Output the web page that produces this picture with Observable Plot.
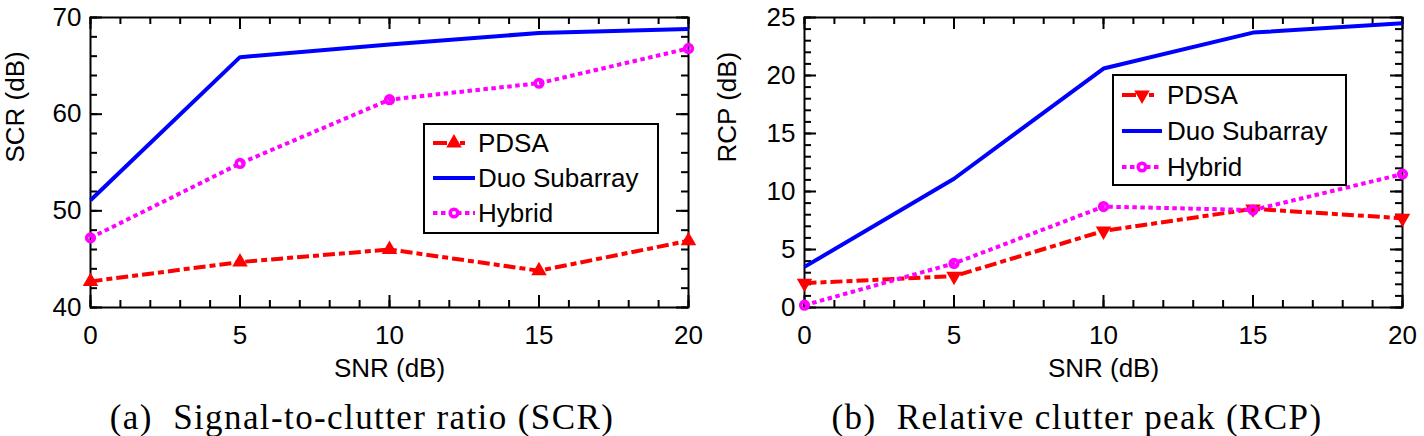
<!DOCTYPE html>
<html><head><meta charset="utf-8">
<script src="https://cdn.jsdelivr.net/npm/d3@7"></script>
<script src="https://cdn.jsdelivr.net/npm/@observablehq/plot@0.6"></script>
<style>
body{margin:0;background:#fff;}
#wrap{position:relative;width:1424px;height:436px;overflow:hidden;font-family:"Liberation Sans",Arial,sans-serif;background:#fff;}
.panel{position:absolute;top:0;width:712px;}
.legend{position:absolute;border:2px solid #000;background:#fff;box-sizing:border-box;}
.legend .row{position:absolute;height:34px;line-height:34px;font-size:26px;white-space:nowrap;}
.legend svg{position:absolute;overflow:visible;}
.caption{position:absolute;font-family:"Liberation Serif","Times New Roman",serif;font-size:35px;line-height:34px;letter-spacing:1.4px;white-space:pre;transform:translateX(-50%);}
</style></head><body><div id="wrap"></div><script>
// ---- data ----
const snr = [0, 5, 10, 15, 20];
const seriesNames = ["PDSA", "Duo Subarray", "Hybrid"];
const scrPDSA   = [42.7, 44.7, 46.0, 43.8, 46.9];
const scrDuo    = [51.1, 65.9, 67.2, 68.4, 68.8];
const scrHybrid = [47.2, 54.9, 61.5, 63.2, 66.8];
const rcpPDSA   = [2.1, 2.7, 6.6, 8.5, 7.7];
const rcpDuo    = [3.5, 11.1, 20.6, 23.7, 24.5];
const rcpHybrid = [0.2, 3.8, 8.7, 8.4, 11.5];
const xTicks = [0, 5, 10, 15, 20];
const xMinor = d3.range(0, 21, 1);
const scrTicks = [40, 50, 60, 70];
const scrMinor = d3.range(40, 71, 2);
const rcpTicks = [0, 5, 10, 15, 20, 25];
const rcpMinor = d3.range(0, 26, 1);
const xLabel = "SNR (dB)";
const captions = ["(a)  Signal-to-clutter ratio (SCR)", "(b)  Relative clutter peak (RCP)"];

// ---- styles ----
const colors = ["#ff0000", "#0000ff", "#ff00ff"];
const dashes = ["12,4,6,4", null, "4.5,3.5"];
const LW = 4;

const wrap = document.getElementById("wrap");
const W = 712, H = 380, MT = 17, MB = 73;

function panel(opts) {
  const {left, ml, mr, yDomain, yTicks, yMinor, yLabel, values, pdsaRotate, leg, capX, caption} = opts;
  const pw = W - ml - mr, ph = H - MT - MB;
  const rows = values.map((arr, s) => snr.map((x, i) => ({x, y: arr[i], s})));
  const lineMarks = rows.map((r, s) => Plot.line(r, {x: "x", y: "y", stroke: colors[s], strokeWidth: LW,
      strokeDasharray: dashes[s], strokeLinecap: "butt", strokeLinejoin: "round"}));
  const dotMarks = [
    Plot.dot(rows[0], {x: "x", y: "y", symbol: "triangle", r: 4.8, fill: colors[0], stroke: colors[0], strokeWidth: 1.5, rotate: pdsaRotate}),
    Plot.dot(rows[2], {x: "x", y: "y", symbol: "circle", r: 3.8, fill: "none", stroke: colors[2], strokeWidth: 3.6})
  ];
  const chart = Plot.plot({
    width: W, height: H, marginLeft: ml, marginRight: mr, marginTop: MT, marginBottom: MB,
    style: {fontFamily: "'Liberation Sans', Arial, sans-serif", fontSize: "26px", background: "white", color: "black", overflow: "visible"},
    x: {domain: [0, 20]},
    y: {domain: yDomain},
    marks: [
      Plot.axisX({ticks: xTicks, tickSize: 0, tickPadding: 18, fontSize: 26, label: null}),
      Plot.axisY({ticks: yTicks, tickSize: 0, tickPadding: 9, fontSize: 26, label: null}),
      // inward ticks: bottom/top
      Plot.tickX(xMinor, {x: d => d, insetTop: ph - 7, stroke: "black", strokeWidth: 2}),
      Plot.tickX(xMinor, {x: d => d, insetBottom: ph - 7, stroke: "black", strokeWidth: 2}),
      Plot.tickX(xTicks, {x: d => d, insetTop: ph - 12, stroke: "black", strokeWidth: 2}),
      Plot.tickX(xTicks, {x: d => d, insetBottom: ph - 12, stroke: "black", strokeWidth: 2}),
      // inward ticks: left/right
      Plot.tickY(yMinor, {y: d => d, insetRight: pw - 7, stroke: "black", strokeWidth: 2}),
      Plot.tickY(yMinor, {y: d => d, insetLeft: pw - 7, stroke: "black", strokeWidth: 2}),
      Plot.tickY(yTicks, {y: d => d, insetRight: pw - 12, stroke: "black", strokeWidth: 2}),
      Plot.tickY(yTicks, {y: d => d, insetLeft: pw - 12, stroke: "black", strokeWidth: 2}),
      Plot.frame({stroke: "black", strokeWidth: 2}),
      ...lineMarks,
      ...dotMarks,
      Plot.text([xLabel], {text: d => d, frameAnchor: "bottom", lineAnchor: "middle", dy: 61, fontSize: 26, fill: "black"}),
      Plot.text([yLabel], {text: d => d, frameAnchor: "left", lineAnchor: "middle", dx: -(ml - 15), rotate: -90, fontSize: 26, fill: "black"})
    ]
  });
  const div = document.createElement("div");
  div.className = "panel";
  div.style.left = left + "px";
  div.appendChild(chart);
  wrap.appendChild(div);

  // legend
  const lg = d3.select(wrap).append("div").attr("class", "legend")
    .style("left", leg.x + "px").style("top", leg.y + "px")
    .style("width", leg.w + "px").style("height", leg.h + "px");
  seriesNames.forEach((name, s) => {
    const cy = leg.r0 + leg.dr * s - 2;
    const svg = lg.append("svg").attr("width", leg.sw).attr("height", 20)
      .style("left", (leg.sx - 2) + "px").style("top", (cy - 10) + "px");
    svg.append("line").attr("x1", 0).attr("x2", leg.sw).attr("y1", 10).attr("y2", 10)
      .attr("stroke", colors[s]).attr("stroke-width", LW)
      .attr("stroke-dasharray", s === 1 ? null : (s === 0 ? "14,4,5,4,5" : "4.5,3.5"));
    if (s === 0) {
      svg.append("path").attr("d", d3.symbol(d3.symbolTriangle, Math.PI * 4.8 * 4.8)())
        .attr("transform", `translate(${leg.sw / 2},10) rotate(${pdsaRotate})`)
        .attr("fill", colors[0]).attr("stroke", colors[0]).attr("stroke-width", 1.5);
    } else if (s === 2) {
      svg.append("circle").attr("cx", leg.sw / 2).attr("cy", 10).attr("r", 3.8)
        .attr("fill", "#fff").attr("stroke", colors[2]).attr("stroke-width", 3.6);
    }
    lg.append("div").attr("class", "row").style("left", (leg.tx - 2) + "px")
      .style("top", (cy - 17) + "px").text(name);
  });

  d3.select(wrap).append("div").attr("class", "caption")
    .style("left", capX + "px").style("top", "401px").text(caption);
}

panel({left: 0, ml: 90, mr: 24, yDomain: [40, 70], yTicks: scrTicks, yMinor: scrMinor, yLabel: "SCR (dB)",
  values: [scrPDSA, scrDuo, scrHybrid], pdsaRotate: 0,
  leg: {x: 423, y: 123, w: 236, h: 111, r0: 20, dr: 35, sx: 10, sw: 42, tx: 55},
  capX: 362, caption: captions[0]});
panel({left: 712, ml: 92, mr: 22, yDomain: [0, 25], yTicks: rcpTicks, yMinor: rcpMinor, yLabel: "RCP (dB)",
  values: [rcpPDSA, rcpDuo, rcpHybrid], pdsaRotate: 180,
  leg: {x: 1112, y: 74, w: 235, h: 112, r0: 21, dr: 36, sx: 10, sw: 40, tx: 55},
  capX: 1077, caption: captions[1]});
</script></body></html>
